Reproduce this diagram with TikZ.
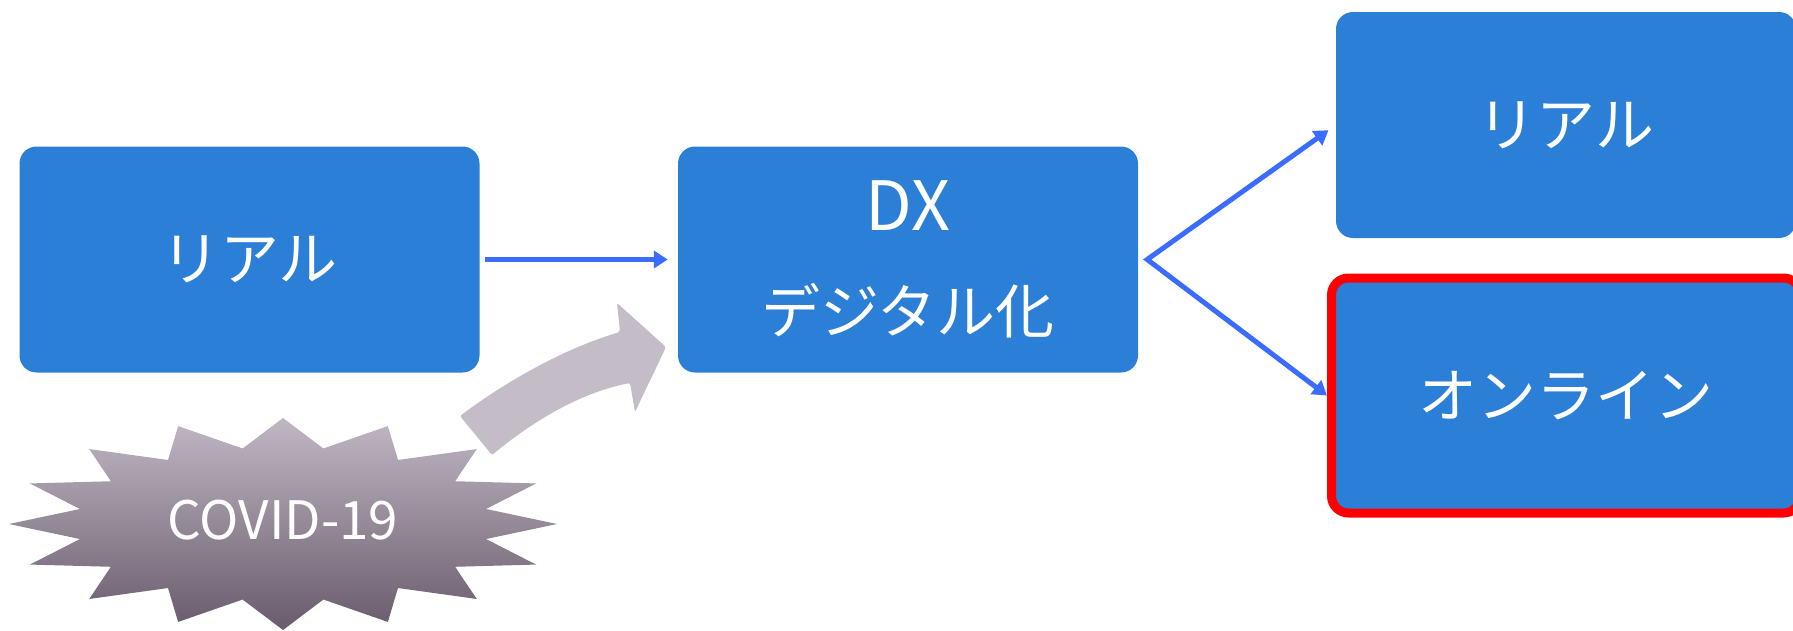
\documentclass[tikz,border=0pt]{standalone}
\usepackage{fontspec}
\setmainfont{Noto Sans CJK JP}
\usetikzlibrary{arrows.meta,positioning}

\definecolor{boxblue}{RGB}{44,127,214}
\definecolor{flowblue}{RGB}{59,108,255}
\definecolor{wavegray}{RGB}{196,188,199}
\definecolor{startop}{RGB}{193,183,195}
\definecolor{starbot}{RGB}{104,91,108}

\begin{document}
\begin{tikzpicture}[x=1pt,y=-1pt,line join=round,line cap=round,
	box/.style={fill=boxblue,rounded corners=17pt,minimum width=460pt,minimum height=226pt,
		inner sep=0pt,text=white,align=center,font=\fontsize{59}{103}\selectfont},
	flow/.style={draw=flowblue,line width=5pt,line cap=butt,line join=miter},
	tip/.tip={Triangle[length=14pt,width=17pt]}]
			\useasboundingbox (0,0) rectangle (1793,630);

			% 四つの箱
			\node[box] (real) at (249.5,259.5) {リアル};
			\node[box] (dx) at (908,259.5) {{\fontsize{68}{68}\selectfont DX}\\デジタル化};
			\node[box] (real2) at (1566,125) {リアル};
			\node[box,draw=red,line width=9pt,minimum width=469pt,minimum height=235pt] (online) at (1566,395.5) {オンライン};

			% 矢印
			\coordinate[right=9pt of dx.east] (fork);
			\draw[flow,-tip,shorten <=5pt,shorten >=10pt] (real) -- (dx);
			\draw[flow,tip-tip,shorten <=9pt] (real2.west) -- (fork) -- (online.west);

			% 爆発形（16点）
			\shade[top color=startop,bottom color=starbot,shift={(283,524)}]
				(0:274 and 106) \foreach \a in {11.25,33.75,...,348.75} {
					-- (\a:207 and 77) -- ({\a+11.25}:274 and 106)
				} -- cycle;
			\node[text=white,font=\fontsize{53}{60}\selectfont] (covid) at (283,520) {COVID-19};

			% 曲がった太い矢印
			\fill[wavegray,rounded corners=2pt] (460,416) .. controls (505,382) and (565,348) .. (620,332)
				-- (617,303) -- (666,347) -- (635,412) -- (630,383)
				.. controls (579,393) and (532,422) .. (492,455) -- cycle;
		\end{tikzpicture}
\end{document}
